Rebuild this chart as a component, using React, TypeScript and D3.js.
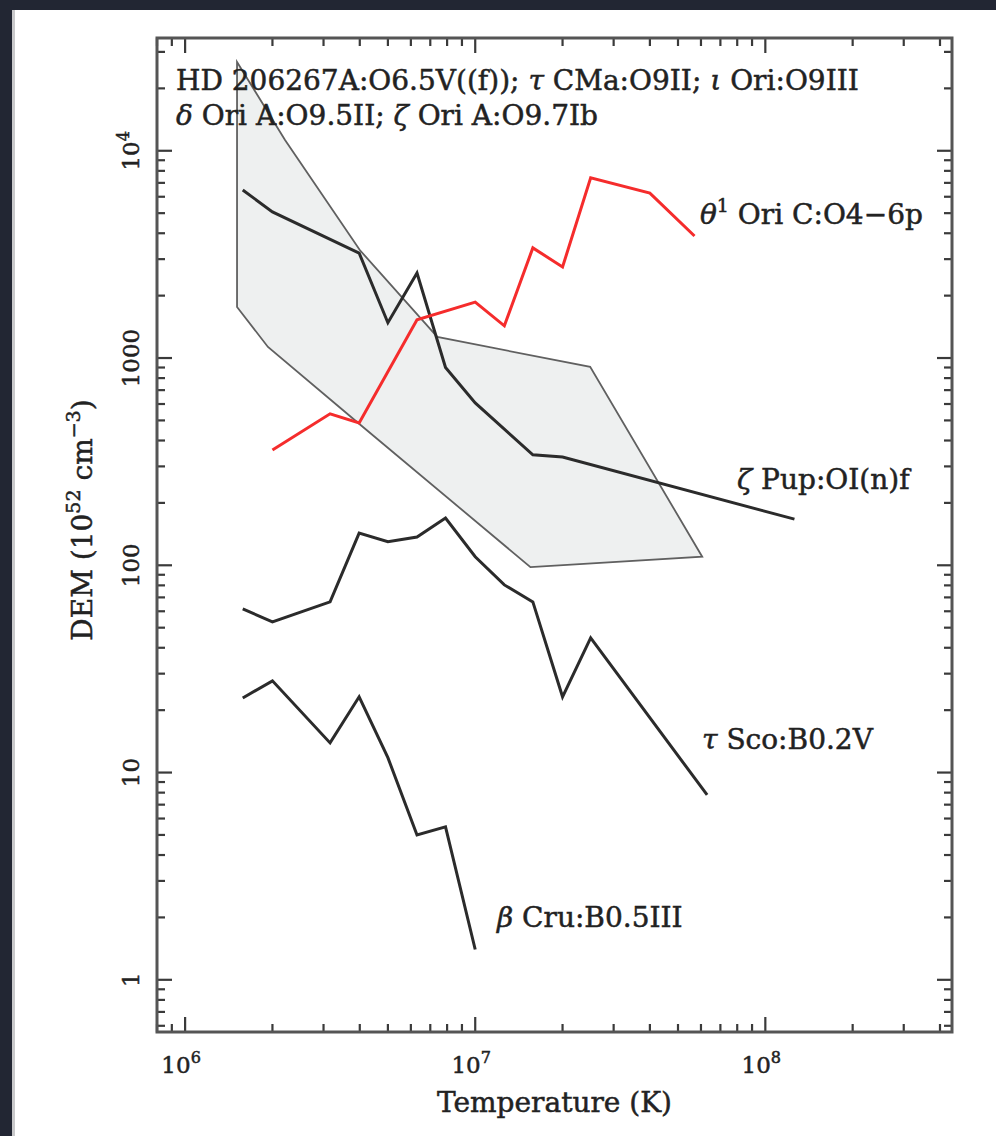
import React, { useEffect, useRef } from "react";
import * as d3 from "d3";

// theta1 Ori C (red)
const thetaT = [2.0e6, 3.16e6, 3.98e6, 6.3e6, 1.0e7, 1.26e7, 1.58e7, 2.0e7, 2.5e7, 4.0e7, 5.7e7];
const thetaDEM = [360, 538, 486, 1530, 1860, 1430, 3400, 2750, 7400, 6250, 3880];

// zeta Pup
const zetaT = [1.58e6, 2.0e6, 3.98e6, 5.0e6, 6.3e6, 7.9e6, 1.0e7, 1.58e7, 2.0e7, 1.26e8];
const zetaDEM = [6470, 5070, 3210, 1480, 2570, 900, 607, 341, 333, 167];

// tau Sco
const tauT = [1.58e6, 2.0e6, 3.16e6, 3.98e6, 5.0e6, 6.3e6, 7.9e6, 1.0e7, 1.26e7, 1.58e7, 2.0e7, 2.5e7, 6.3e7];
const tauDEM = [61.6, 53.3, 66.6, 143, 130, 137, 169, 110, 80.4, 66.6, 23.2, 44.6, 7.8];

// beta Cru
const betaT = [1.58e6, 2.0e6, 3.16e6, 3.98e6, 5.0e6, 6.3e6, 7.9e6, 1.0e7];
const betaDEM = [22.9, 27.7, 13.9, 23.2, 11.8, 5.0, 5.47, 1.4];

// envelope of the O9 giants / supergiants
const bandT = [1.51e6, 2.21e6, 4.0e6, 7.4e6, 2.49e7, 6.06e7, 1.55e7, 3.95e6, 1.93e6, 1.51e6];
const bandDEM = [26800, 11270, 3320, 1264, 906, 110, 98, 486, 1131, 1764];

const yTickLabels = ["1", "10", "100", "1000", "10^4"];
const xTickLabels = ["10^6", "10^7", "10^8"];

const FONT = "DejaVu Serif";
const INK = "#222";

const App = () => {
  const svgRef = useRef<SVGSVGElement>(null);

  useEffect(() => {
    const width = 996;
    const height = 1136;
    const m = { left: 157, right: 952, top: 38, bottom: 1032 };

    const svg = d3.select(svgRef.current);
    svg.selectAll("*").remove();

    // screenshot frame
    svg.append("rect").attr("width", width).attr("height", height).attr("fill", "#222633");
    svg.append("rect").attr("x", 12).attr("y", 10).attr("width", 4).attr("height", height).attr("fill", "#c9c9cb");
    svg.append("rect").attr("x", 15).attr("y", 10).attr("width", width - 15).attr("height", height).attr("fill", "#fff");

    const x = d3.scaleLog().domain([8e5, 4.4e8]).range([m.left, m.right]);
    const y = d3.scaleLog().domain([0.56, 3.5e4]).range([m.bottom, m.top]);

    const line = d3.line<[number, number]>()
      .x(d => x(d[0]))
      .y(d => y(d[1]));

    const zip = (a: number[], b: number[]) => a.map((v, i) => [v, b[i]] as [number, number]);

    // shaded band
    svg.append("path")
      .attr("d", line.curve(d3.curveLinearClosed)(zip(bandT, bandDEM)))
      .attr("fill", "#eef0f0")
      .attr("stroke", "#606060")
      .attr("stroke-width", 1.8);
    line.curve(d3.curveLinear);

    const series = [
      { t: zetaT, v: zetaDEM, color: "#2b2b2b" },
      { t: tauT, v: tauDEM, color: "#2b2b2b" },
      { t: betaT, v: betaDEM, color: "#2b2b2b" },
      { t: thetaT, v: thetaDEM, color: "#f52c2c" },
    ];
    series.forEach(s => {
      svg.append("path")
        .attr("d", line(zip(s.t, s.v)))
        .attr("fill", "none")
        .attr("stroke", s.color)
        .attr("stroke-width", 3)
        .attr("stroke-linejoin", "miter");
    });

    // ticks on all four sides
    const isMajor = (t: number) => Math.abs(Math.log10(t) - Math.round(Math.log10(t))) < 1e-6;
    const tg = svg.append("g").attr("stroke", "#3a3a3a").attr("stroke-width", 2.2);
    x.ticks().forEach(t => {
      const len = isMajor(t) ? 15 : 8;
      tg.append("line").attr("x1", x(t)).attr("x2", x(t)).attr("y1", m.bottom).attr("y2", m.bottom - len);
      tg.append("line").attr("x1", x(t)).attr("x2", x(t)).attr("y1", m.top).attr("y2", m.top + len);
    });
    y.ticks().forEach(t => {
      const len = isMajor(t) ? 15 : 8;
      tg.append("line").attr("y1", y(t)).attr("y2", y(t)).attr("x1", m.left).attr("x2", m.left + len);
      tg.append("line").attr("y1", y(t)).attr("y2", y(t)).attr("x1", m.right).attr("x2", m.right - len);
    });

    svg.append("rect")
      .attr("x", m.left).attr("y", m.top)
      .attr("width", m.right - m.left).attr("height", m.bottom - m.top)
      .attr("fill", "none").attr("stroke", "#555").attr("stroke-width", 3);

    const styleText = (t: any, size: number) =>
      t.attr("font-family", FONT).attr("font-size", size).attr("fill", INK)
        .attr("stroke", INK).attr("stroke-width", 0.5);

    // text helper: "^" marks a superscript part
    const addPowerText = (g: any, label: string, size: number) => {
      const [base, sup] = label.split("^");
      g.append("tspan").text(base);
      if (sup) g.append("tspan").attr("dy", -size * 0.45).attr("font-size", size * 0.7).text(sup);
    };

    const tickFs = 23;
    // x tick labels
    const majorsX = x.ticks().filter(isMajor);
    majorsX.forEach((t, i) => {
      const tx = styleText(svg.append("text"), tickFs)
        .attr("x", x(t) - 4).attr("y", 1073)
        .attr("text-anchor", "middle");
      addPowerText(tx, xTickLabels[i], tickFs);
    });

    // y tick labels (rotated)
    const majorsY = y.ticks().filter(isMajor);
    majorsY.forEach((t, i) => {
      const ty = styleText(svg.append("text"), tickFs)
        .attr("transform", `translate(139,${y(t)}) rotate(-90)`)
        .attr("text-anchor", "middle");
      addPowerText(ty, yTickLabels[i], tickFs);
    });

    const fs = 28;
    // axis titles
    styleText(svg.append("text"), fs)
      .attr("x", (m.left + m.right) / 2).attr("y", 1112)
      .attr("text-anchor", "middle")
      .text("Temperature (K)");

    const yt = styleText(svg.append("text"), fs)
      .attr("transform", `translate(92,520) rotate(-90)`)
      .attr("text-anchor", "middle");
    yt.append("tspan").text("DEM (10");
    yt.append("tspan").attr("dy", -12).attr("font-size", 19).text("52");
    yt.append("tspan").attr("dy", 12).text(" cm");
    yt.append("tspan").attr("dy", -12).attr("font-size", 19).text("−3");
    yt.append("tspan").attr("dy", 12).text(")");

    // annotations: parts with greek letters in italic
    const annotate = (px: number, py: number, parts: { s: string; it?: boolean; sup?: boolean }[]) => {
      const t = styleText(svg.append("text"), fs).attr("x", px).attr("y", py);
      let up = false;
      parts.forEach(p => {
        const ts = t.append("tspan").text(p.s);
        if (p.it) ts.attr("font-style", "italic");
        if (p.sup && !up) { ts.attr("dy", -12).attr("font-size", 19); up = true; }
        else if (!p.sup && up) { ts.attr("dy", 12); up = false; }
      });
    };

    annotate(176, 90, [
      { s: "HD 206267A:O6.5V((f)); " }, { s: "τ", it: true }, { s: " CMa:O9II; " },
      { s: "ι", it: true }, { s: " Ori:O9III" },
    ]);
    annotate(176, 125, [
      { s: "δ", it: true }, { s: " Ori A:O9.5II; " }, { s: "ζ", it: true }, { s: " Ori A:O9.7Ib" },
    ]);
    annotate(700, 224, [{ s: "θ", it: true }, { s: "1", sup: true }, { s: " Ori C:O4−6p" }]);
    annotate(737, 489, [{ s: "ζ", it: true }, { s: " Pup:OI(n)f" }]);
    annotate(702, 749, [{ s: "τ", it: true }, { s: " Sco:B0.2V" }]);
    annotate(497, 927, [{ s: "β", it: true }, { s: " Cru:B0.5III" }]);
  }, []);

  return (
    <div style={{ position: "absolute", left: 0, top: 0 }}>
      <svg ref={svgRef} width={996} height={1136} style={{ display: "block" }}></svg>
    </div>
  );
};

export default App;
